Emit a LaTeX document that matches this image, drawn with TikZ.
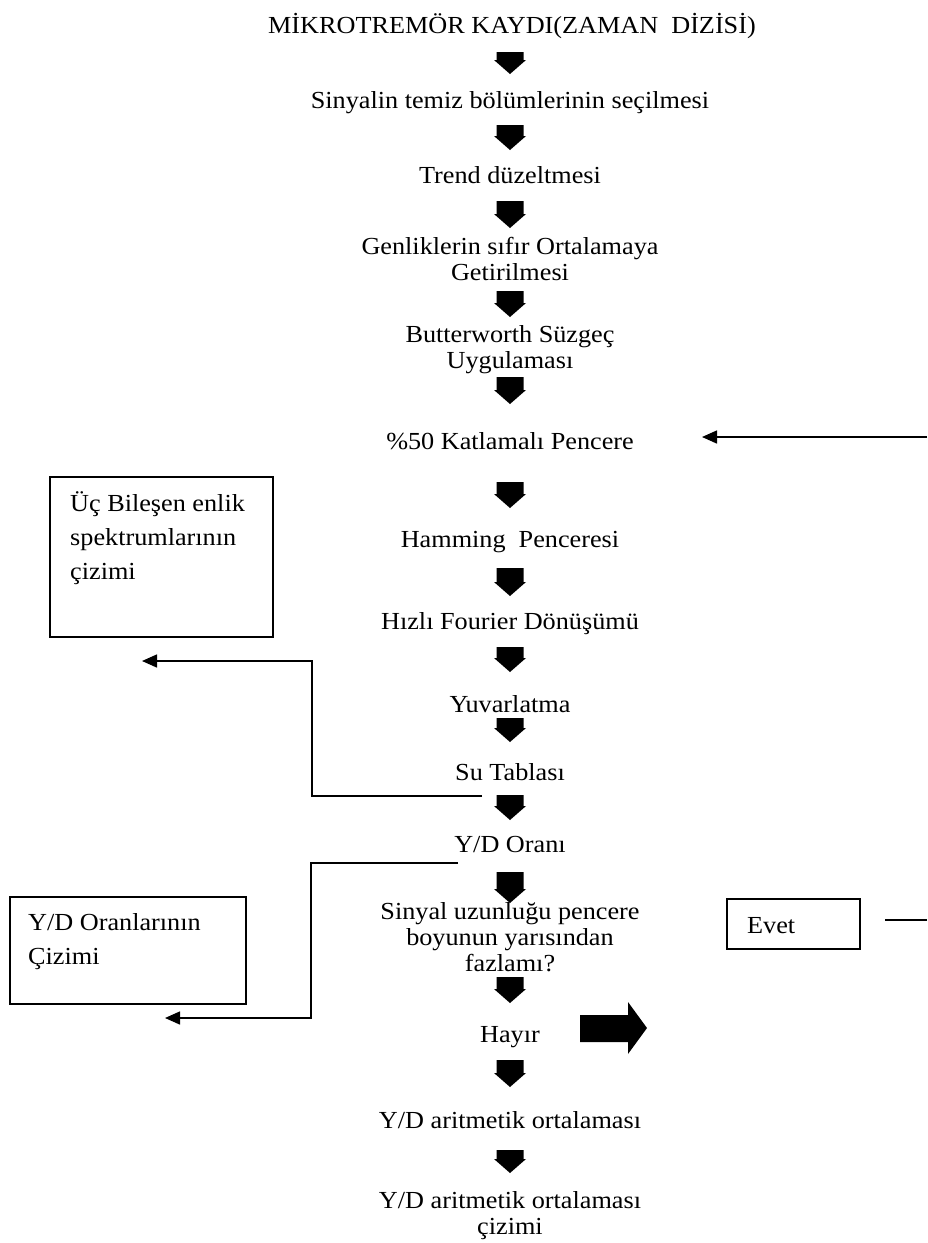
\documentclass[tikz,border=0pt]{standalone}
\usepackage{fontspec}
\setmainfont{Liberation Serif}[FakeStretch=1.07]
\usetikzlibrary{arrows.meta}
\newcommand\cst{\rule[-6pt]{0pt}{26pt}}
\newcommand\bst{\rule[-9pt]{0pt}{34pt}}
\newcommand\dnarrow[2]{\fill[black] (496.5,#1) -- (523.5,#1) -- (523.5,{#2-14}) -- (526,{#2-14}) -- (510,#2) -- (494,{#2-14}) -- (496.5,{#2-14}) -- cycle;}
\begin{document}
\begin{tikzpicture}[x=1pt,y=-1pt,
  txt/.style={inner sep=0pt, align=center, anchor=north, font=\fontsize{24.5}{26}\selectfont},
  btxt/.style={inner sep=0pt, align=left, anchor=north west, font=\fontsize{24.5}{34}\selectfont},
  box/.style={draw, line width=1.5pt, inner sep=0pt, anchor=north west},
  conn/.style={line width=1.5pt},
  tip/.style={-{Triangle[length=15pt,width=13pt]}}]
\useasboundingbox (0,0) rectangle (927,1243);
\fill[white] (0,0) rectangle (927,1243);
% main column
\node[txt] (title) at (512,13) {\cst MİKROTREMÖR KAYDI(ZAMAN\ \ DİZİSİ)};
\node[txt] (sel) at (510,88) {\cst Sinyalin temiz bölümlerinin seçilmesi};
\node[txt] (trend) at (510,163) {\cst Trend düzeltmesi};
\node[txt] (genlik) at (510,234) {\cst Genliklerin sıfır Ortalamaya\\\cst Getirilmesi};
\node[txt] (butter) at (510,322) {\cst Butterworth Süzgeç\\\cst Uygulaması};
\node[txt] (pct) at (510,429) {\cst\%50 Katlamalı Pencere};
\node[txt] (hamming) at (510,527) {\cst Hamming\ \ Penceresi};
\node[txt] (fft) at (510,609) {\cst Hızlı Fourier Dönüşümü};
\node[txt] (yuv) at (510,692) {\cst Yuvarlatma};
\node[txt] (su) at (510,760) {\cst Su Tablası};
\node[txt] (yd) at (510,832) {\cst Y/D Oranı};
\node[txt] (cond) at (510,899) {\cst Sinyal uzunluğu pencere\\\cst boyunun yarısından\\\cst fazlamı?};
\node[txt] (hayir) at (510,1022) {\cst Hayır};
\node[txt] (ort) at (510,1108) {\cst Y/D aritmetik ortalaması};
\node[txt] (ortciz) at (510,1188) {\cst Y/D aritmetik ortalaması\\\cst çizimi};
% block arrows
\dnarrow{52}{74}
\dnarrow{125}{150}
\dnarrow{201}{228}
\dnarrow{291}{317}
\dnarrow{377}{404}
\dnarrow{482}{508}
\dnarrow{568}{596}
\dnarrow{647}{672}
\dnarrow{718}{742}
\dnarrow{795}{820}
\dnarrow{872}{903}
\dnarrow{977}{1003}
\dnarrow{1060}{1087}
\dnarrow{1150}{1173}
% big right arrow
\fill[black] (580,1015) -- (628,1015) -- (628,1002) -- (647,1028) -- (628,1054) -- (628,1042) -- (580,1042) -- cycle;
% side boxes
\node[box, minimum width=223pt, minimum height=160pt] (ucbox) at (49,476) {};
\node[btxt] (uctext) at (70,486) {\bst Üç Bileşen enlik\\\bst spektrumlarının\\\bst çizimi};
\node[box, minimum width=236pt, minimum height=107pt] (ydbox) at (9,896) {};
\node[btxt] (ydtext) at (28,905) {\bst Y/D Oranlarının\\\bst Çizimi};
\node[box, minimum width=133pt, minimum height=50pt] (evbox) at (726,898) {};
\node[btxt] (evtext) at (747,908) {\bst Evet};
% connectors
\coordinate (suS) at (482,796);
\coordinate (ucT) at (142,661);
\draw[conn,tip] (suS) -- (312,796) -- (312,661) -- (ucT);
\coordinate (ydS) at (458,863);
\coordinate (ydT) at (165,1018);
\draw[conn,tip] (ydS) -- (311,863) -- (311,1018) -- (ydT);
\coordinate (evR) at (927,920);
\coordinate (evL) at (885,920);
\draw[conn] (evR) -- (evL);
\coordinate (pcR) at (927,437);
\coordinate (pcT) at (702,437);
\draw[conn,tip] (pcR) -- (pcT);
\end{tikzpicture}
\end{document}
